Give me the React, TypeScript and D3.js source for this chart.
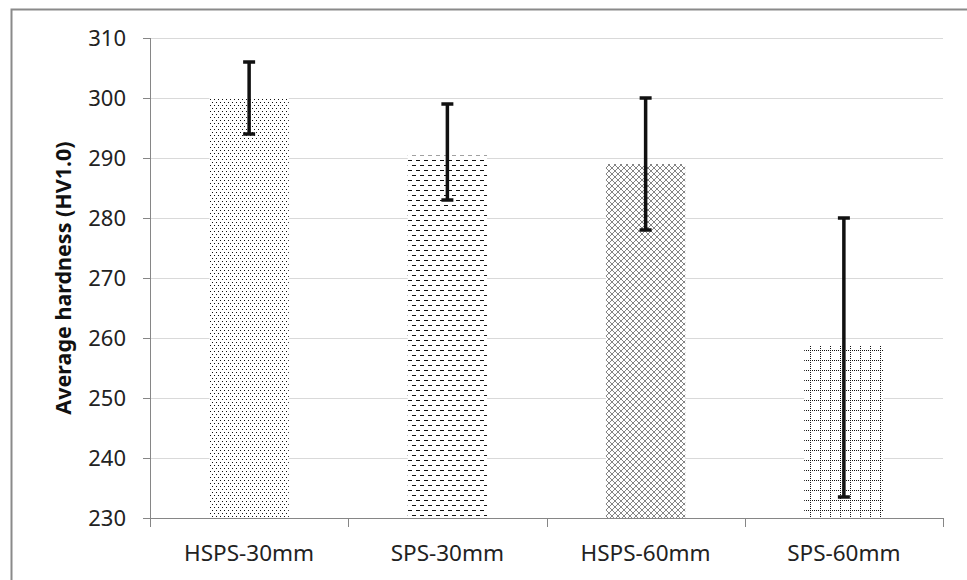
import React from "react";
import * as d3 from "d3";

const categories = ["HSPS-30mm", "SPS-30mm", "HSPS-60mm", "SPS-60mm"];
const means = [300, 290.4, 289, 258.7];
const upper = [306, 299, 300, 280];
const lower = [294, 283, 278, 233.5];
const yTicks = [230, 240, 250, 260, 270, 280, 290, 300, 310];
const patterns = ["pDots", "pDash", "pCross", "pGrid"];

const W = 967;
const H = 580;
const left = 150;
const right = 943;
const top = 38;
const bottom = 518;
const FONT = "'Noto Sans', 'Open Sans', sans-serif";

export default function App() {
  const x = d3.scaleBand().domain(categories).range([left, right]).paddingInner(0.6).paddingOuter(0.3);
  const band = d3.scaleBand().domain(categories).range([left, right]);
  const y = d3.scaleLinear().domain([230, 310]).range([bottom, top]);
  const capW = 12;
  const dotsH = [0, 2, 4, 6, 8];

  return (
    <svg width={W} height={H} style={{ position: "absolute", left: 0, top: 0, background: "#fff" }}>
      <defs>
        <pattern id="pDots" width={4} height={6} patternUnits="userSpaceOnUse">
          <rect width={4} height={6} fill="#fff" />
          <rect x={0} y={0} width={1} height={1} fill="#111" />
          <rect x={2} y={3} width={1} height={1} fill="#111" />
        </pattern>
        <pattern id="pDash" width={8} height={10} patternUnits="userSpaceOnUse">
          <rect width={8} height={10} fill="#fff" />
          <rect x={0} y={0} width={4} height={1} fill="#111" />
          <rect x={4} y={5} width={4} height={1} fill="#111" />
        </pattern>
        <pattern id="pCross" width={6} height={6} patternUnits="userSpaceOnUse">
          <rect width={6} height={6} fill="#fff" />
          <path d="M0,0L6,6M6,0L0,6" stroke="#666" strokeWidth={0.8} />
        </pattern>
        <pattern id="pGrid" width={10} height={10} patternUnits="userSpaceOnUse">
          <rect width={10} height={10} fill="#fff" />
          {dotsH.map((d) => (
            <rect key={"h" + d} x={d} y={0} width={1} height={1} fill="#111" />
          ))}
          {dotsH.slice(1).map((d) => (
            <rect key={"v" + d} x={0} y={d} width={1} height={1} fill="#111" />
          ))}
        </pattern>
      </defs>

      {/* outer chart border (left & top visible) */}
      <path d={`M11.5,${H}V9.5H${W}`} fill="none" stroke="#8a8a8a" strokeWidth={2} />

      {/* gridlines */}
      {yTicks.map((t) => (
        <line key={"g" + t} x1={left} x2={right} y1={Math.round(y(t)) + 0.5} y2={Math.round(y(t)) + 0.5} stroke="#d9d9d9" strokeWidth={1} />
      ))}

      {/* bars */}
      {categories.map((c, i) => (
        <rect
          key={c}
          x={x(c)!}
          width={x.bandwidth()}
          y={y(means[i])}
          height={y(230) - y(means[i])}
          fill={`url(#${patterns[i]})`}
        />
      ))}

      {/* y axis */}
      <line x1={left + 0.5} x2={left + 0.5} y1={top} y2={bottom} stroke="#868686" strokeWidth={1} />
      {yTicks.map((t) => (
        <g key={"t" + t}>
          <line x1={left - 7} x2={left} y1={Math.round(y(t)) + 0.5} y2={Math.round(y(t)) + 0.5} stroke="#868686" />
          <text x={126} y={y(t)} dy="0.36em" textAnchor="end" fontFamily={FONT} fontSize={22} fill="#222">
            {t}
          </text>
        </g>
      ))}

      {/* x axis */}
      <line x1={left} x2={right} y1={bottom + 0.5} y2={bottom + 0.5} stroke="#868686" strokeWidth={1} />
      {[...categories.map((c) => band(c)!), right].map((v, i) => (
        <line key={"xt" + i} x1={Math.round(v) + 0.5} x2={Math.round(v) + 0.5} y1={bottom} y2={bottom + 9} stroke="#868686" />
      ))}
      {categories.map((c) => (
        <text key={"l" + c} x={x(c)! + x.bandwidth() / 2} y={553} dy="0.36em" textAnchor="middle" fontFamily={FONT} fontSize={22.5} fill="#222">
          {c}
        </text>
      ))}

      {/* error bars */}
      {categories.map((c, i) => {
        const cx = x(c)! + x.bandwidth() / 2;
        return (
          <g key={"e" + c} stroke="#111" strokeWidth={3.5}>
            <line x1={cx} x2={cx} y1={y(upper[i])} y2={y(lower[i])} />
            <line x1={cx - capW / 2} x2={cx + capW / 2} y1={y(upper[i])} y2={y(upper[i])} />
            <line x1={cx - capW / 2} x2={cx + capW / 2} y1={y(lower[i])} y2={y(lower[i])} />
          </g>
        );
      })}

      {/* y title */}
      <text
        transform={`translate(71,${(top + bottom) / 2}) rotate(-90)`}
        textAnchor="middle"
        fontFamily={FONT}
        fontWeight="bold"
        fontSize={21.5}
        fill="#111"
      >
        Average hardness (HV1.0)
      </text>
    </svg>
  );
}
